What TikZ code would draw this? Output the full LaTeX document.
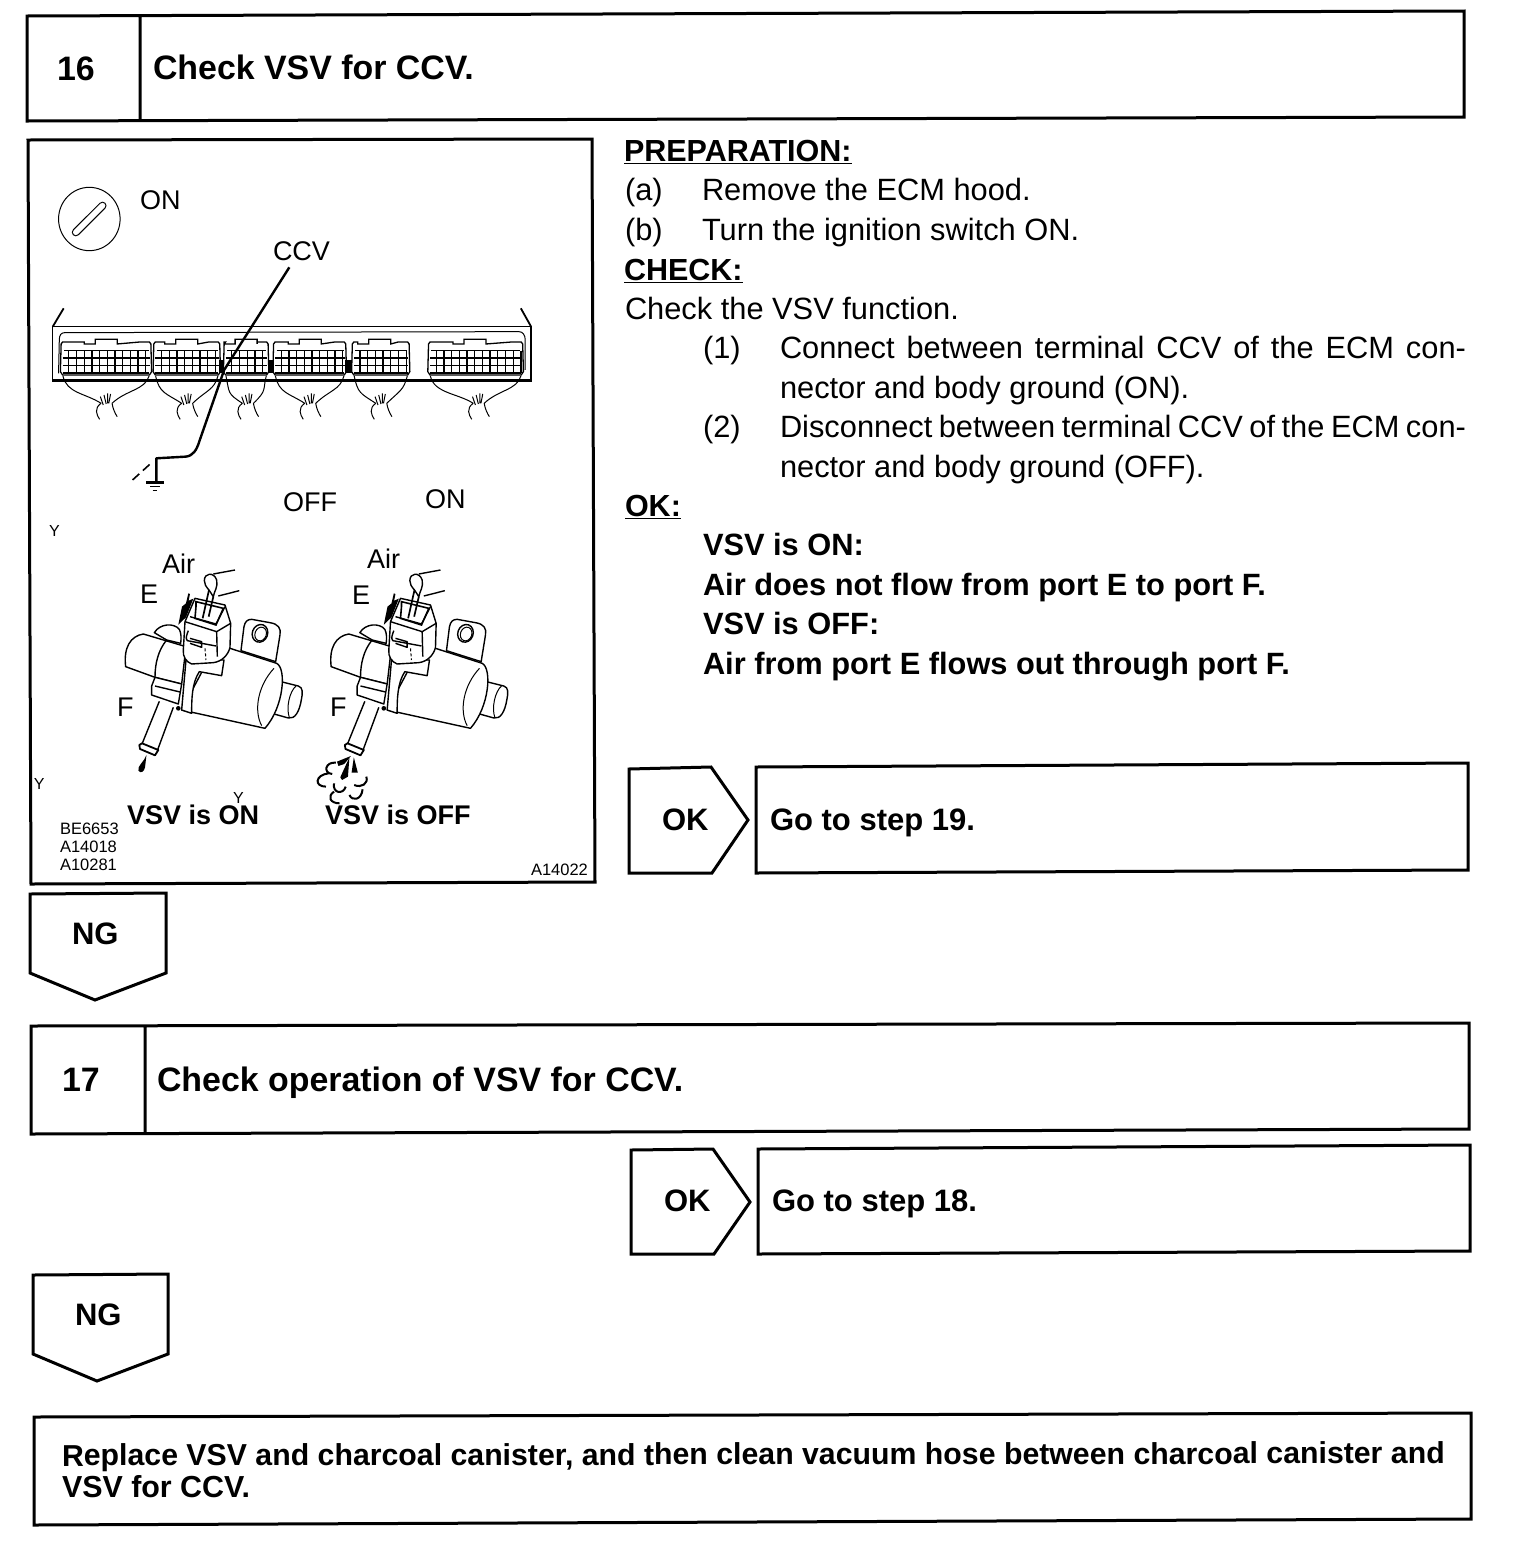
\documentclass[tikz,border=0pt]{standalone}
\usepackage{fontspec}
\setmainfont{Liberation Sans}
\newcommand{\ftbody}{\fontsize{30.8}{35}\selectfont}
\newcommand{\ftbold}{\fontsize{30.8}{35}\selectfont\bfseries}
\newcommand{\ftprep}{\fontsize{30.5}{35}\selectfont\bfseries}
\newcommand{\ftrep}{\fontsize{30.4}{35}\selectfont\bfseries}
\newcommand{\ftrepa}{\fontsize{30.27}{35}\selectfont\bfseries}
\newcommand{\fthead}{\fontsize{31}{35}\selectfont\bfseries}
\newcommand{\fttitle}{\fontsize{33.9}{38}\selectfont\bfseries}
\newcommand{\ftfig}{\fontsize{27}{30}\selectfont}
\newcommand{\ftfigb}{\fontsize{27}{30}\selectfont\bfseries}
\newcommand{\ftcode}{\fontsize{16.5}{18}\selectfont}
\newcommand{\ftstray}{\fontsize{16}{18}\selectfont}
\newcommand{\ulbox}[1]{\underline{#1}}
\newcommand{\ecuconn}[3]{%x0,x1,tabcentre
  \draw[connline,fill=white] (#1,612)--(#1+4,606)--(#3-60,606)--(#3-60,612)--(#3-30,612)--(#3-30,598)--(#3+30,598)--(#3+30,612)--(#2-30,606)--(#2-4,606)--(#2,612)--(#2+2,695)--(#2-4,705)--(#1+4,705)--(#1-2,695)--cycle;
  \draw[connline] (#1+8,632)--(#2-6,632) (#1+4,654)--(#2-2,654) (#1+4,677)--(#2-2,677);
  \draw[line width=1.8pt] (#1+4,700)--(#2-4,700);
  \pgfmathtruncatemacro{\ncols}{(#2-#1)/21}
  \foreach \k in {1,...,\ncols}{\draw[connline] (#1+\k*21,632)--(#1+\k*21,698);}
}
\newcommand{\harness}[3]{%x0,x1,centre
  \draw[wirefine] (#1+5,708) .. controls (#1+15,760) and (#3-60,760) .. (#3-18,790)
                  (#2-5,708) .. controls (#2-15,750) and (#3+50,750) .. (#3+12,790)
                  (#3-18,790) .. controls (#3-38,805) and (#3-30,825) .. (#3-22,838)
                  (#3+12,790) .. controls (#3+14,805) and (#3+20,820) .. (#3+26,830)
                  (#3-20,770)--(#3-12,795) (#3-10,765)--(#3-4,792) (#3,760)--(#3,790) (#3+8,762)--(#3+3,790);
}
\newcommand{\valve}[1]{%
\begin{scope}[shift={(#1,-560pt)},x=0.3333pt,y=-0.3333pt]
  % bracket
  \draw[valveline,fill=white] (393,272)--(402,200) .. controls (405,185) and (412,178) .. (425,178) -- (480,188) .. controls (505,192) and (514,205) .. (510,225) -- (497,305)--cycle;
  \draw[valveline,rotate around={-20:(450,220)}] (450,220) ellipse [x radius=23,y radius=27];
  \draw[wirefine,rotate around={-20:(452,222)}] (452,222) ellipse [x radius=17,y radius=21];
  % nub
  \draw[valveline,fill=white] (505,363)--(565,378) .. controls (580,382) and (578,400) .. (574,420) .. controls (568,455) and (555,478) .. (535,474) -- (485,460)--cycle;
  \draw[wirefine] (558,378) .. controls (538,395) and (528,445) .. (538,472);
  % body
  \draw[valveline,fill=white] (300,290)--(360,265)--(500,310) .. controls (530,325) and (522,440) .. (465,505)--(215,450)--cycle;
  \draw[wirefine] (492,325) .. controls (445,375) and (430,450) .. (455,497);
  % band arch behind connector
  \draw[valveline,fill=white] (133,218) .. controls (150,190) and (192,188) .. (208,208) .. controls (214,220) and (214,235) .. (212,250)--(170,240)--cycle;
  % cap
  \draw[valveline,fill=white] (100,222) .. controls (62,228) and (40,262) .. (47,320) -- (135,352) -- (215,372) -- (228,260) -- cycle;
  \draw[valveline] (170,240) .. controls (145,270) and (135,310) .. (135,352);
  % saddle
  \draw[valveline,fill=white] (228,300)--(215,450)--(245,460) .. controls (245,420) and (245,370) .. (268,335)--(335,347)--(342,300)--cycle;
  % collar
  \draw[valveline,fill=white] (135,352)--(125,378)--(125,405)--(205,432)--(215,372)--cycle;
  \draw[valveline] (135,378)--(210,396);
  % pipe
  \draw[valveline,fill=white] (148,424)--(96,552)--(142,572)--(190,442);
  \draw[valveline,line width=1.8pt,fill=white] (96,550)--(88,555)--(90,567)--(135,586)--(145,570)--cycle;
  \fill (205,445) circle [radius=7];
  % connector
  \draw[valveline,fill=white] (225,185)--(255,115)--(345,135)--(362,190)--(360,262) .. controls (355,285) and (335,305) .. (310,308)--(245,312) .. controls (228,305) and (218,290) .. (220,270)--cycle;
  \draw[valveline] (225,185)--(320,215)--(362,190) (320,215)--(322,290);
  \draw[valveline] (240,170)--(318,192)--(345,140);
  \draw[line width=1.6pt] (258,140)--(255,175)--(318,195)--(340,145)--(258,125)--cycle;
  \draw[valveline] (235,212) .. controls (230,225) and (226,235) .. (232,242)--(318,258) (240,235)--(275,245)--(275,262)--(240,250);
  \draw[wirefine,dash pattern=on 3pt off 2pt] (285,265)--(288,300);
  % terminal wires
  \draw[valveline,fill=white] (283,62) .. controls (283,38) and (312,35) .. (320,60) .. controls (325,80) and (312,95) .. (310,110)--(297,90) .. controls (288,80) and (283,72) .. (283,62);
  \draw[line width=1.7pt] (297,90)--(278,175) (310,110)--(296,170);
  \draw[valveline] (310,42)--(375,30) (325,108)--(388,92);
  % airflow arrow
  \fill (235,100)--(240,102)--(236,122)--(250,116)--(228,172)--(205,194)--(216,140)--(228,130)--cycle;
\end{scope}}
\tikzset{
  boxline/.style={line width=3pt,line join=miter,fill=white},
  lab/.style={anchor=base west,inner sep=0pt,outer sep=0pt},
  wirefine/.style={line width=1pt},
  connline/.style={line width=1.3pt},
  valveline/.style={line width=1.4pt,line join=round},
  heavyline/.style={line width=2.4pt,line join=round}
}
\begin{document}
\begin{tikzpicture}[x=1pt,y=-1pt]
\useasboundingbox (0,0) rectangle (1520,1548);
\fill[white] (0,0) rectangle (1520,1548);

% step boxes
\draw[boxline] (27,16)--(1464,11)--(1464,117)--(27,121)--cycle (140,16)--(140,121);
\draw[boxline] (31,1026)--(1469,1023)--(1469,1129)--(31,1134)--cycle (145,1026)--(145,1134);
\draw[boxline] (34,1417)--(1471,1413)--(1471,1519)--(34,1525)--cycle;

% figure frame
\draw[boxline] (28,140)--(592,139)--(595,882)--(31,884)--cycle;

% OK / NG arrows
\draw[boxline] (629,769)--(711,767)--(748,820)--(712,873)--(629,873)--cycle;
\draw[boxline] (756,767)--(1468,763)--(1468,870)--(756,873)--cycle;
\draw[boxline] (631,1150)--(713,1149)--(750,1202)--(714,1254)--(631,1254)--cycle;
\draw[boxline] (758,1149)--(1470,1145)--(1470,1251)--(758,1254)--cycle;
\draw[boxline] (30,894)--(166,893)--(166,973)--(95,1000)--(30,973)--cycle;
\draw[boxline] (33,1275)--(168,1274)--(168,1354)--(97,1381)--(33,1354)--cycle;

% box text
\node[lab] (n16) at (57,80) {\fttitle 16};
\node[lab] (t16) at (153,79) {\fttitle Check VSV for CCV.};
\node[lab] (n17) at (62,1091) {\fttitle 17};
\node[lab] (t17) at (157,1091) {\fttitle Check operation of VSV for CCV.};
\node[lab] (ok1) at (662,830) {\fthead OK};
\node[lab] (go1) at (770,830) {\fthead Go to step 19.};
\node[lab] (ok2) at (664,1211) {\fthead OK};
\node[lab] (go2) at (772,1211) {\fthead Go to step 18.};
\node[lab] (ng1) at (72,944) {\fthead NG};
\node[lab] (ng2) at (75,1325) {\fthead NG};
\node[lab,rotate=0.1] (rep1) at (62,1466) {\ftrepa Replace VSV and charcoal canister, and then clean vacuum hose between charcoal canister and};
\node[lab] (rep2) at (62,1497) {\ftrep VSV for CCV.};

% right column
\node[lab] (prep) at (624,161) {\ftprep \ulbox{PREPARATION:}};
\node[lab] (a1) at (625,200) {\ftbody (a)};
\node[lab] (a2) at (702,200) {\ftbody Remove the ECM hood.};
\node[lab] (b1) at (625,240) {\ftbody (b)};
\node[lab] (b2) at (702,240) {\ftbody Turn the ignition switch ON.};
\node[lab] (chk) at (624,280) {\ftprep \ulbox{CHECK:}};
\node[lab] (chk2) at (625,319) {\ftbody Check the VSV function.};
\node[lab] (c1) at (703,358) {\ftbody (1)};
\node[lab] (c2) at (780,358) {\ftbody \makebox[686pt][s]{Connect between terminal CCV of the ECM con-}};
\node[lab] (c3) at (780,398) {\ftbody nector and body ground (ON).};
\node[lab] (d1) at (703,437) {\ftbody (2)};
\node[lab] (d2) at (780,437) {\ftbody \makebox[686pt][s]{Disconnect between terminal CCV of the ECM con-}};
\node[lab] (d3) at (780,477) {\ftbody nector and body ground (OFF).};
\node[lab] (okk) at (625,516) {\ftprep \ulbox{OK:}};
\node[lab] (e1) at (703,555) {\ftbold VSV is ON:};
\node[lab] (e2) at (703,595) {\ftbold Air does not flow from port E to port F.};
\node[lab] (e3) at (703,634) {\ftbold VSV is OFF:};
\node[lab] (e4) at (703,674) {\ftbold Air from port E flows out through port F.};

% ECM drawing
\begin{scope}[shift={(30pt,-140pt)},x=0.3663pt,y=-0.3333pt]
  % key
  \draw[wirefine] (162,237) ellipse [x radius=84,y radius=95];
  \draw[line width=8pt,line cap=round] (125,277)--(198,197);
  \draw[white,line width=5.6pt,line cap=round] (125,277)--(198,197);
  % case
  \draw[line width=1.4pt] (62,725)--(62,560)--(1368,560)--(1368,725)--cycle;
  \draw[line width=1.8pt] (62,560)--(92,505) (1368,560)--(1340,505);
  \draw[wirefine] (78,700)--(80,600) .. controls (80,585) and (85,578) .. (95,578)--(1335,575) .. controls (1345,575) and (1352,585) .. (1352,600)--(1352,690);
  \draw[line width=2.4pt] (62,722)--(1368,722);
  \ecuconn{85}{330}{208}
  \ecuconn{338}{518}{428}
  \ecuconn{530}{650}{590}
  \ecuconn{665}{862}{765}
  \ecuconn{880}{1035}{955}
  \ecuconn{1088}{1345}{1215}
  \fill (515,660) rectangle (530,700);
  \fill (650,660) rectangle (665,700);
  \fill (860,660) rectangle (878,700);
  \harness{85}{330}{212}
  \harness{338}{518}{432}
  \harness{530}{650}{598}
  \harness{665}{862}{768}
  \harness{880}{1035}{962}
  \harness{1088}{1345}{1228}
  % CCV probe
  \draw[heavyline] (708,382)--(530,690)--(462,905) .. controls (455,930) and (445,948) .. (425,950)--(345,955)--(345,1027);
  \draw[line width=1.6pt,dash pattern=on 9pt off 5pt] (280,1020)--(335,965);
  \draw[heavyline] (318,1028)--(366,1028);
  \draw[line width=1.5pt] (328,1040)--(356,1040) (335,1052)--(348,1052);
\end{scope}

% valves
\valve{110pt}
\valve{315.5pt}

% drop and air puffs
\begin{scope}[shift={(30pt,-520pt)},x=0.3663pt,y=-0.3333pt]
  \fill (318,705) .. controls (312,725) and (292,738) .. (296,752) .. controls (302,762) and (312,755) .. (314,742) -- cycle;
  \fill (876,708)--(838,725)--(842,738)--(858,732)--cycle;
  \fill (872,712)--(847,772)--(852,780)--(868,770)--cycle;
  \fill (884,712)--(878,758)--(895,758)--cycle;
  \draw[line width=2pt] (835,728) .. controls (805,725) and (800,760) .. (825,762)
    (815,760) .. controls (778,765) and (775,800) .. (808,800)
    (830,790) .. controls (825,820) and (855,825) .. (862,800)
    (885,795) .. controls (905,805) and (925,790) .. (918,770)
    (830,815) .. controls (810,830) and (820,850) .. (845,850)
    (872,825) .. controls (880,845) and (905,840) .. (908,808);
\end{scope}

% figure text
\node[lab] (f1) at (140,209) {\ftfig ON};
\node[lab] (f2) at (273,260) {\ftfig CCV};
\node[lab] (f3) at (283,511) {\ftfig OFF};
\node[lab] (f4) at (425,508) {\ftfig ON};
\node[lab] (f5) at (162,573) {\ftfig Air};
\node[lab] (f6) at (367,568) {\ftfig Air};
\node[lab] (f7) at (140,603) {\ftfig E};
\node[lab] (f8) at (352,604) {\ftfig E};
\node[lab] (f9) at (117,716) {\ftfig F};
\node[lab] (f10) at (330,716) {\ftfig F};
\node[lab] (v1) at (127,824) {\ftfigb VSV is ON};
\node[lab] (v2) at (325,824) {\ftfigb VSV is OFF};
\node[lab] (g1) at (60,834) {\ftcode BE6653};
\node[lab] (g2) at (60,852) {\ftcode A14018};
\node[lab] (g3) at (60,870) {\ftcode A10281};
\node[lab] (g4) at (531,875) {\ftcode A14022};
\node[lab] (y1) at (49,536) {\ftstray Y};
\node[lab] (y2) at (34,789) {\ftstray Y};
\node[lab] (y3) at (233,803) {\ftstray Y};
\end{tikzpicture}
\end{document}
